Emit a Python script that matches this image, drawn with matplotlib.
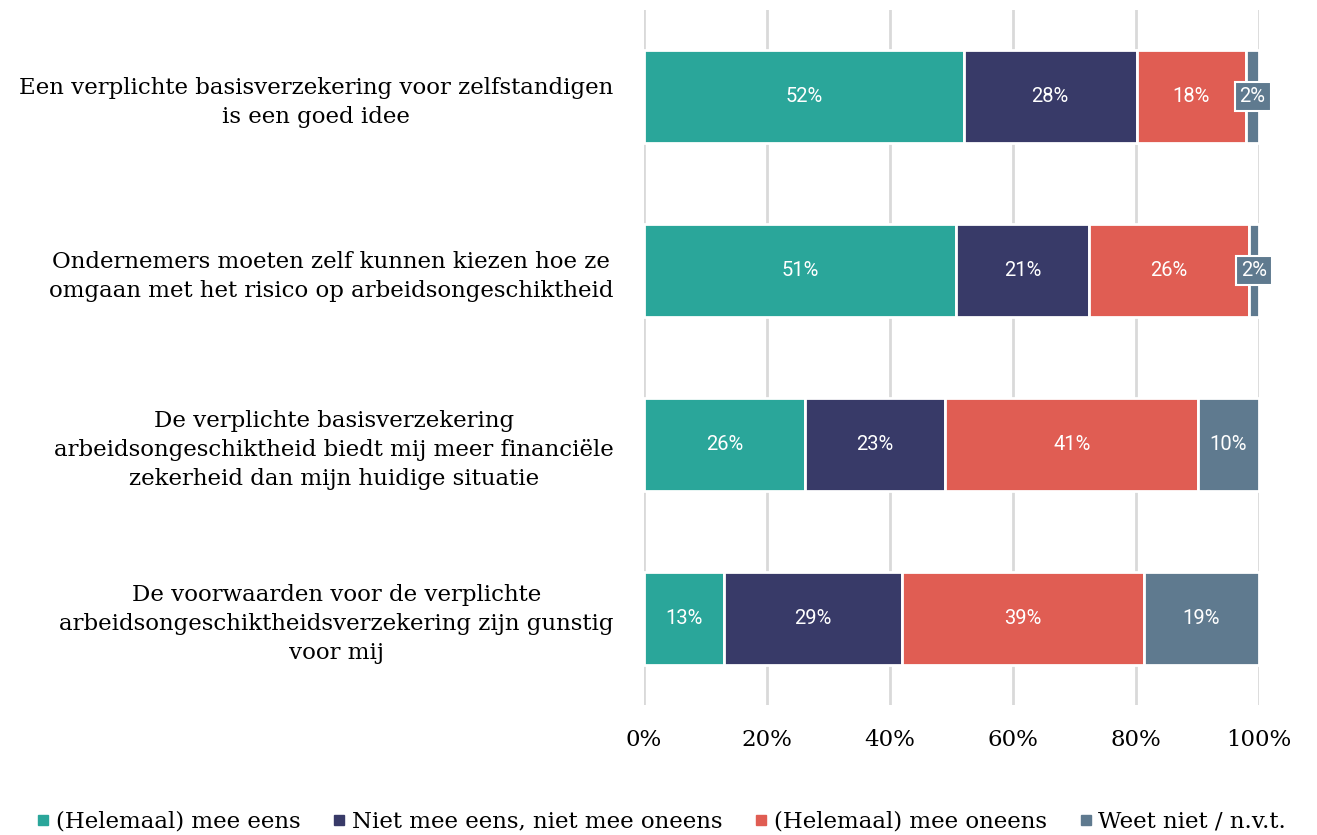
import matplotlib
matplotlib.use("Agg")
import matplotlib.pyplot as plt
from matplotlib.lines import Line2D
import numpy as np

categories = [
    "Een verplichte basisverzekering voor zelfstandigen\nis een goed idee",
    "Ondernemers moeten zelf kunnen kiezen hoe ze\nomgaan met het risico op arbeidsongeschiktheid",
    "De verplichte basisverzekering\narbeidsongeschiktheid biedt mij meer financiële\nzekerheid dan mijn huidige situatie",
    "De voorwaarden voor de verplichte\narbeidsongeschiktheidsverzekering zijn gunstig\nvoor mij",
]
series_names = ["(Helemaal) mee eens", "Niet mee eens, niet mee oneens",
                "(Helemaal) mee oneens", "Weet niet / n.v.t."]
mee_eens = [52.0, 50.8, 26.1, 13.0]
neutraal = [28.1, 21.5, 22.9, 29.0]
oneens = [17.8, 26.1, 41.1, 39.3]
weet_niet = [2.1, 1.6, 9.9, 18.7]
labels = [
    ["52%", "51%", "26%", "13%"],
    ["28%", "21%", "23%", "29%"],
    ["18%", "26%", "41%", "39%"],
    ["2%", "2%", "10%", "19%"],
]
ticks = [0, 20, 40, 60, 80, 100]
tick_labels = ["0%", "20%", "40%", "60%", "80%", "100%"]

colors = ["#2aa69a", "#383a68", "#e05d53", "#5f7a8f"]
serif = ["DejaVu Serif"]
sans = ["Roboto", "DejaVu Sans"]

fig = plt.figure(figsize=(13.17, 8.35), dpi=100)
ax = fig.add_axes([644/1317, (835-705)/835, (1259-644)/1317, 695/835])

y = np.arange(len(categories))
data = [mee_eens, neutraal, oneens, weet_niet]
left = np.zeros(len(categories))
for i, vals in enumerate(data):
    vals = np.array(vals)
    bars = ax.barh(y, vals, left=left, height=0.535, color=colors[i],
                   edgecolor="white", linewidth=2, zorder=3)
    for j, b in enumerate(bars):
        cx = left[j] + vals[j] / 2
        if vals[j] < 5:
            ax.text(cx, y[j], labels[i][j], ha="center", va="center", color="white",
                    fontsize=14.5, family=sans, zorder=5,
                    bbox=dict(boxstyle="square,pad=0.25", fc=colors[i], ec="white", lw=1.5))
        else:
            ax.text(cx, y[j], labels[i][j], ha="center", va="center", color="white",
                    fontsize=14.5, family=sans, zorder=5)
    left = left + vals

ax.set_xlim(0, 100)
ax.set_ylim(3.5, -0.5)
ax.set_xticks(ticks)
ax.set_xticklabels(tick_labels, family=serif, fontsize=16.5)
ax.set_yticks(y)
ax.set_yticklabels(categories, family=serif, fontsize=16.5, linespacing=1.4)
for lbl in ax.get_yticklabels():
    lbl.set_multialignment("center")
ax.tick_params(axis="y", length=0, pad=22)
ax.tick_params(axis="x", length=0, pad=17)
ax.grid(axis="x", color="#d9d9d9", linewidth=2, zorder=0)
for s in ax.spines.values():
    s.set_visible(False)

handles = [Line2D([0], [0], marker="s", linestyle="", markersize=6.5,
                  markerfacecolor=c, markeredgecolor=c) for c in colors]
fig.legend(handles, series_names, loc="lower center", bbox_to_anchor=(0.502, -0.022),
           ncol=4, frameon=False, prop={"family": serif[0], "size": 16.5},
           handlelength=0.6, handletextpad=0.25, columnspacing=1.4)

fig.savefig("out.png", dpi=100)
